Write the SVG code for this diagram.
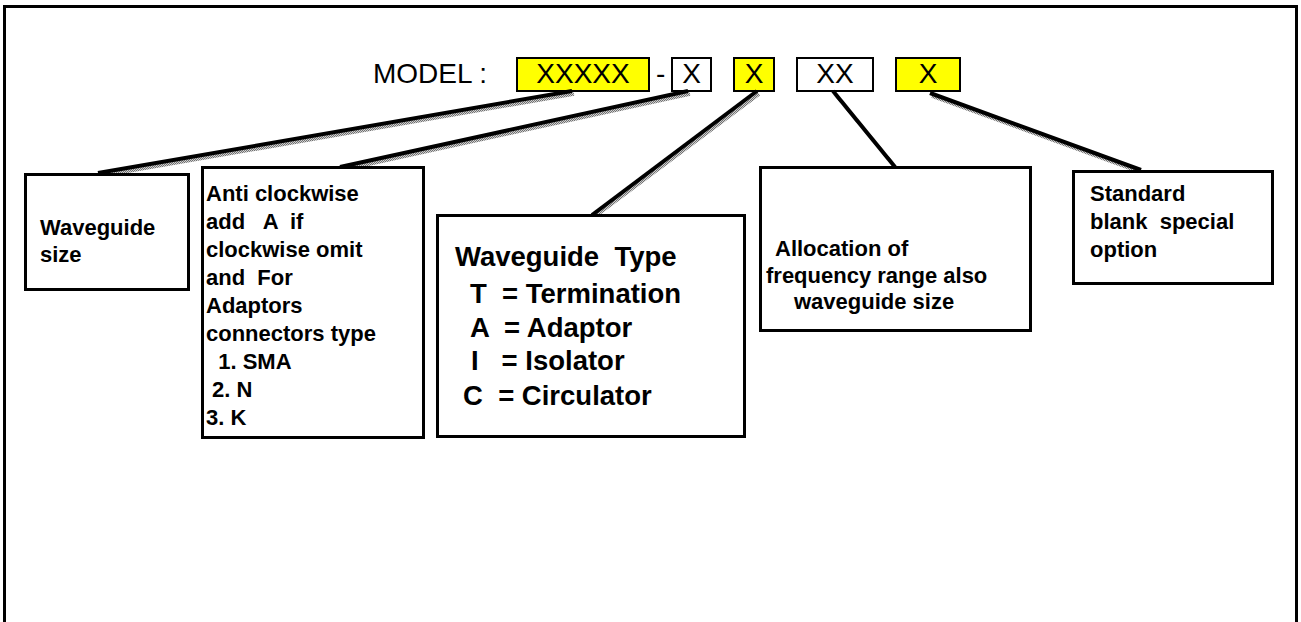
<svg xmlns="http://www.w3.org/2000/svg" width="1301" height="622" viewBox="0 0 1301 622">
<defs>
<pattern id="stip" width="2" height="2" patternUnits="userSpaceOnUse">
<rect width="2" height="2" fill="#d0d0d0"/>
<rect width="1" height="1" fill="#707070"/>
<rect x="1" y="1" width="1" height="1" fill="#707070"/>
</pattern>
</defs>
<style>
.frame{fill:none;stroke:#000;stroke-width:3}
.box{fill:#fff;stroke:#000;stroke-width:3}
.mbox{stroke:#000;stroke-width:2}
.yel{fill:#ffff00}
.wht{fill:#fff}
.model{font-family:"Liberation Sans",Arial,sans-serif;font-size:28px;fill:#000}
.lbl{font-family:"Liberation Sans",Arial,sans-serif;font-weight:bold;font-size:22px;fill:#000}
.big{font-family:"Liberation Sans",Arial,sans-serif;font-weight:bold;font-size:27.5px;fill:#000}
.sh{stroke:url(#stip);stroke-width:3.5;fill:none}
.ln{stroke:#000;stroke-width:4;fill:none;stroke-linecap:butt}
</style>
<rect width="1301" height="622" fill="#fff"/>
<path class="frame" d="M4.5,622 V6.5 H1296.5 V622"/>

<g id="model">
  <text class="model" x="373" y="83">MODEL :</text>
  <g id="m-xxxxx"><rect class="mbox yel" x="517" y="58" width="132" height="33"/><text class="model" x="583" y="83" text-anchor="middle">XXXXX</text></g>
  <text class="model" x="656" y="83">-</text>
  <g id="m-x1"><rect class="mbox wht" x="672" y="58" width="39" height="33"/><text class="model" x="691.5" y="83" text-anchor="middle">X</text></g>
  <g id="m-x2"><rect class="mbox yel" x="734" y="58" width="40" height="33"/><text class="model" x="754" y="83" text-anchor="middle">X</text></g>
  <g id="m-xx"><rect class="mbox wht" x="797" y="58" width="76" height="33"/><text class="model" x="835" y="83" text-anchor="middle">XX</text></g>
  <g id="m-x3"><rect class="mbox yel" x="896" y="58" width="64" height="33"/><text class="model" x="928" y="83" text-anchor="middle">X</text></g>
</g>

<g id="connectors">
  <line class="sh" x1="574" y1="94" x2="100" y2="176"/>
  <line class="ln" x1="572" y1="91" x2="98" y2="173"/>
  <line class="sh" x1="690" y1="94" x2="342" y2="170"/>
  <line class="ln" x1="688" y1="91" x2="340" y2="167"/>
  <line class="sh" x1="759" y1="94" x2="594" y2="217"/>
  <line class="ln" x1="757" y1="91" x2="592" y2="215"/>
  <line class="sh" x1="835" y1="94" x2="897" y2="169"/>
  <line class="ln" x1="833" y1="91" x2="895" y2="167"/>
  <line class="sh" x1="932" y1="96" x2="1143" y2="173"/>
  <line class="ln" x1="930" y1="93" x2="1141" y2="170"/>
</g>

<g id="n-size">
  <rect class="box" x="25.5" y="174.5" width="163" height="115"/>
  <text class="lbl" x="40" y="235">Waveguide</text>
  <text class="lbl" x="40" y="262">size</text>
</g>

<g id="n-rotation">
  <rect class="box" x="202.5" y="167.5" width="221" height="270"/>
  <text class="lbl" x="206" y="201" xml:space="preserve">Anti clockwise</text>
  <text class="lbl" x="206" y="229" xml:space="preserve">add   A  if</text>
  <text class="lbl" x="206" y="257" xml:space="preserve">clockwise omit</text>
  <text class="lbl" x="206" y="285" xml:space="preserve">and  For</text>
  <text class="lbl" x="206" y="313" xml:space="preserve">Adaptors</text>
  <text class="lbl" x="206" y="341" xml:space="preserve">connectors type</text>
  <text class="lbl" x="206" y="369" xml:space="preserve">  1. SMA</text>
  <text class="lbl" x="206" y="397" xml:space="preserve"> 2. N</text>
  <text class="lbl" x="206" y="425" xml:space="preserve">3. K</text>
</g>

<g id="n-type">
  <rect class="box" x="437.5" y="215.5" width="307" height="221"/>
  <text class="big" x="455" y="266" xml:space="preserve">Waveguide  Type</text>
  <text class="big" x="470" y="303" xml:space="preserve">T  = Termination</text>
  <text class="big" x="470" y="337" xml:space="preserve">A  = Adaptor</text>
  <text class="big" x="471" y="370" xml:space="preserve">I   = Isolator</text>
  <text class="big" x="463" y="405" xml:space="preserve">C  = Circulator</text>
</g>

<g id="n-freq">
  <rect class="box" x="760.5" y="167.5" width="270" height="163"/>
  <text class="lbl" x="775" y="256">Allocation of</text>
  <text class="lbl" x="766" y="283">frequency range also</text>
  <text class="lbl" x="794" y="309">waveguide size</text>
</g>

<g id="n-option">
  <rect class="box" x="1073.5" y="171.5" width="199" height="112"/>
  <text class="lbl" x="1090" y="201">Standard</text>
  <text class="lbl" x="1090" y="229" xml:space="preserve">blank  special</text>
  <text class="lbl" x="1090" y="257">option</text>
</g>
</svg>
